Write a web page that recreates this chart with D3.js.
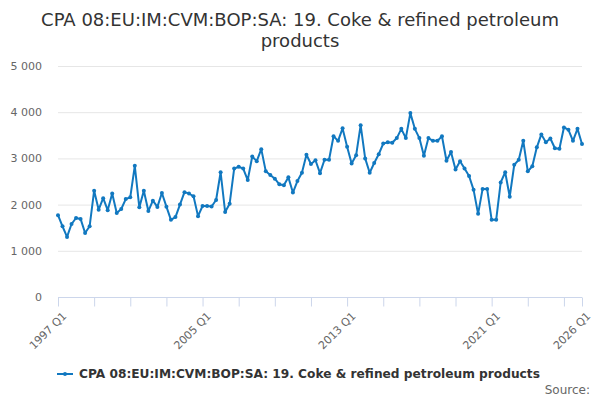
<!DOCTYPE html>
<html>
<head>
<meta charset="utf-8">
<script src="https://cdn.jsdelivr.net/npm/d3@7"></script>
<style>
  body { margin: 0; background: #fff; }
  text { font-family: "DejaVu Sans", Verdana, sans-serif; }
</style>
</head>
<body>
<div id="chart"></div>
<script>
'use strict';

// quarters 1997 Q1 .. 2026 Q1
const start_year = 1997
const n_quarters = 117
const quarters = d3.range(n_quarters).map(i => `${start_year + Math.floor(i / 4)} Q${(i % 4) + 1}`)

// values
const values = [
  1770, 1530, 1300, 1580, 1710, 1690, 1385, 1530,
  2300, 1890, 2140, 1880, 2240, 1820, 1905, 2120,
  2160, 2840, 1940, 2300, 1860, 2085, 1950, 2250,
  1955, 1670, 1730, 2000, 2270, 2240, 2180, 1750,
  1970, 1970, 1960, 2100, 2700, 1840, 2020, 2780,
  2820, 2780, 2530, 3040, 2940, 3200, 2720, 2640,
  2560, 2440, 2420, 2590, 2260, 2510, 2690, 3080,
  2880, 2960, 2680, 2970, 2970, 3480, 3380, 3650,
  3250, 2890, 3070, 3720, 3000, 2690, 2900, 3090,
  3320, 3350, 3340, 3440, 3640, 3440, 3980, 3640,
  3440, 3060, 3440, 3380, 3380, 3480, 2950, 3140,
  2760, 2940, 2780, 2620, 2320, 1800, 2340, 2340,
  1670, 1670, 2480, 2700, 2170, 2860, 2970, 3380,
  2720, 2830, 3240, 3520, 3350, 3430, 3220, 3210,
  3670, 3620, 3380, 3640, 3310
]

const y_ticks = [0, 1000, 2000, 3000, 4000, 5000]
const x_label_quarters = ['1997 Q1', '2005 Q1', '2013 Q1', '2021 Q1', '2026 Q1']

const series_name = 'CPA 08:EU:IM:CVM:BOP:SA: 19. Coke & refined petroleum products'
const title_lines = ['CPA 08:EU:IM:CVM:BOP:SA: 19. Coke & refined petroleum', 'products']

const dimensions = {
  width: 600,
  height: 400,
  margin: { top: 66, bottom: 103, left: 58, right: 18 }
}
dimensions.ctrWidth = dimensions.width - dimensions.margin.left - dimensions.margin.right
dimensions.ctrHeight = dimensions.height - dimensions.margin.top - dimensions.margin.bottom

const line_color = '#1178c0'
const fmt = d3.formatLocale({ decimal: '.', thousands: '\u00a0', grouping: [3], currency: ['', ''] }).format(',')

const svg_el = d3.select('#chart')
  .append('svg')
  .attr('width', dimensions.width)
  .attr('height', dimensions.height)

// title
svg_el.append('text')
  .attr('x', 300)
  .attr('y', 26)
  .attr('text-anchor', 'middle')
  .style('font-size', '18px')
  .style('fill', '#333333')
  .selectAll('tspan')
  .data(title_lines)
  .join('tspan')
  .attr('x', 300)
  .attr('dy', (d, i) => i === 0 ? 0 : 21)
  .text(d => d)

const chart_g = svg_el.append('g')
  .attr('transform', `translate(${dimensions.margin.left}, ${dimensions.margin.top})`)

const xScale = d3.scaleLinear()
  .domain([0, n_quarters - 1])
  .range([0, dimensions.ctrWidth])

const yScale = d3.scaleLinear()
  .domain([0, 5000])
  .range([dimensions.ctrHeight, 0])

// gridlines
chart_g.append('g')
  .selectAll('line')
  .data(y_ticks.filter(d => d > 0))
  .join('line')
  .attr('x1', 0)
  .attr('x2', dimensions.ctrWidth)
  .attr('y1', d => yScale(d) + 0.5)
  .attr('y2', d => yScale(d) + 0.5)
  .style('stroke', '#e6e6e6')
  .style('stroke-width', 1)

// y axis labels
const yAxis = d3.axisLeft(yScale)
  .tickValues(y_ticks)
  .tickFormat(fmt)
  .tickSize(0)
  .tickPadding(16)
const yAxisGroup = chart_g.append('g').call(yAxis)
yAxisGroup.select('.domain').remove()
yAxisGroup.selectAll('text')
  .style('font-size', '11px')
  .style('fill', '#666666')
  .style('font-family', '"DejaVu Sans", sans-serif')

// x axis: ticks every 8 quarters plus the last one
const tick_idx = d3.range(0, n_quarters, 8).concat([n_quarters - 1])
const xAxis = d3.axisBottom(xScale)
  .tickValues(tick_idx)
  .tickSize(9)
  .tickFormat('')
const xAxisGroup = chart_g.append('g')
  .attr('transform', `translate(0, ${dimensions.ctrHeight + 0.5})`)
  .call(xAxis)
xAxisGroup.select('.domain').attr('d', `M0,0H${dimensions.ctrWidth}`).style('stroke', '#ccd6eb')
xAxisGroup.selectAll('.tick line').style('stroke', '#ccd6eb')

chart_g.append('g')
  .selectAll('text')
  .data(x_label_quarters)
  .join('text')
  .attr('transform', d => `translate(${xScale(quarters.indexOf(d)) + 6.5}, ${dimensions.ctrHeight + 17}) rotate(-45)`)
  .attr('text-anchor', 'end')
  .attr('dy', '0.35em')
  .style('font-size', '11px')
  .style('fill', '#666666')
  .text(d => d)

// the line
const line_gen = d3.line()
  .x((d, i) => xScale(i))
  .y(d => yScale(d))

chart_g.append('path')
  .datum(values)
  .attr('d', line_gen)
  .style('fill', 'none')
  .style('stroke', line_color)
  .style('stroke-width', 2)
  .style('stroke-linejoin', 'round')

chart_g.append('g')
  .selectAll('circle')
  .data(values)
  .join('circle')
  .attr('cx', (d, i) => xScale(i))
  .attr('cy', d => yScale(d))
  .attr('r', 2)
  .style('fill', line_color)

// legend
const legend_g = svg_el.append('g')
  .attr('transform', 'translate(57, 374)')
legend_g.append('line')
  .attr('x1', 0).attr('x2', 16)
  .style('stroke', line_color)
  .style('stroke-width', 2)
legend_g.append('circle')
  .attr('cx', 8).attr('r', 2)
  .style('fill', line_color)
legend_g.append('text')
  .attr('x', 22)
  .attr('dy', '0.35em')
  .style('font-size', '12.2px')
  .style('font-weight', 'bold')
  .style('fill', '#333333')
  .text(series_name)

// source
svg_el.append('text')
  .attr('x', 590)
  .attr('y', 394)
  .attr('text-anchor', 'end')
  .style('font-size', '12px')
  .style('fill', '#666666')
  .text('Source:')
</script>
</body>
</html>
